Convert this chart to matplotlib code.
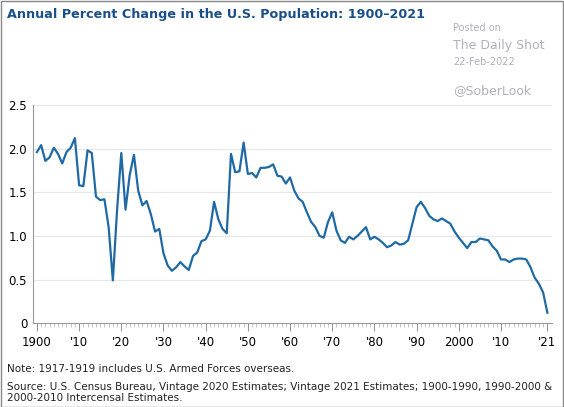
import matplotlib.pyplot as plt
import numpy as np

years = list(range(1900, 2022))
pct = [1.96,2.04,1.86,1.90,2.01,1.94,1.83,1.96,2.01,2.12,
       1.58,1.57,1.98,1.95,1.45,1.41,1.42,1.10,0.49,1.30,
       1.95,1.30,1.70,1.93,1.52,1.35,1.40,1.25,1.05,1.08,
       0.80,0.66,0.60,0.64,0.70,0.65,0.61,0.77,0.81,0.94,
       0.96,1.06,1.39,1.19,1.08,1.03,1.94,1.73,1.74,2.07,
       1.71,1.72,1.67,1.78,1.78,1.79,1.82,1.69,1.68,1.60,
       1.67,1.52,1.43,1.39,1.27,1.16,1.10,1.00,0.98,1.16,
       1.27,1.06,0.95,0.92,0.99,0.96,1.00,1.05,1.10,0.96,
       0.99,0.96,0.92,0.87,0.89,0.93,0.90,0.91,0.95,1.14,
       1.33,1.39,1.32,1.23,1.19,1.17,1.20,1.17,1.14,1.05,
       0.98,0.92,0.86,0.93,0.93,0.97,0.96,0.95,0.88,0.83,
       0.73,0.73,0.70,0.73,0.74,0.74,0.73,0.64,0.52,0.45,
       0.35,0.12]
assert len(pct) == len(years)
xticks = [1900,1910,1920,1930,1940,1950,1960,1970,1980,1990,2000,2010,2021]
xlabels = ["1900","'10","'20","'30","'40","'50","'60","'70","'80","'90","2000","'10","'21"]

fig = plt.figure(figsize=(5.64,4.07), dpi=100)
ax = fig.add_axes([0.058, 0.206, 0.92, 0.536])
ax.plot(years, pct, color='#1f6aa5', lw=1.6)
ax.set_xlim(1899, 2022)
ax.set_ylim(0, 2.5)
ax.set_yticks([0,0.5,1.0,1.5,2.0,2.5])
ax.set_yticklabels(['0','0.5','1.0','1.5','2.0','2.5'])
ax.set_xticks(xticks)
ax.set_xticklabels(xlabels)
ax.set_xticks(range(1900,2022), minor=True)
ax.tick_params(axis='x', which='major', length=6, color='#999999', labelsize=8.5, pad=3)
ax.tick_params(axis='x', which='minor', length=3, color='#bbbbbb')
ax.tick_params(axis='y', length=0, labelsize=8.5, pad=4)
for s in ['top','right']:
    ax.spines[s].set_visible(False)
ax.spines['left'].set_color('#999999')
ax.spines['bottom'].set_color('#999999')
ax.grid(axis='y', color='#e6e6e6', lw=0.8)
ax.set_axisbelow(True)

fig.text(0.012, 0.965, "Annual Percent Change in the U.S. Population: 1900–2021",
         fontsize=9.2, fontweight='bold', color='#1a4f8a', va='center')
fig.text(0.803, 0.925, "Posted on", fontsize=7, color='#b0b0c0')
fig.text(0.803, 0.88, "The Daily Shot", fontsize=9, color='#b0b0c0')
fig.text(0.803, 0.84, "22-Feb-2022", fontsize=7, color='#b0b0c0')
fig.text(0.803, 0.77, "@SoberLook", fontsize=9, color='#b0b0c0')
fig.text(0.012, 0.085, "Note: 1917-1919 includes U.S. Armed Forces overseas.", fontsize=7.5, color='#222222')
fig.text(0.012, 0.015, "Source: U.S. Census Bureau, Vintage 2020 Estimates; Vintage 2021 Estimates; 1900-1990, 1990-2000 &\n2000-2010 Intercensal Estimates.",
         fontsize=7.5, color='#222222', linespacing=1.1)
fig.patches.append(plt.Rectangle((0.001,0.001),0.997,0.997, transform=fig.transFigure,
                                 fill=False, edgecolor='#888888', lw=1))
fig.savefig('out.png', dpi=100)
